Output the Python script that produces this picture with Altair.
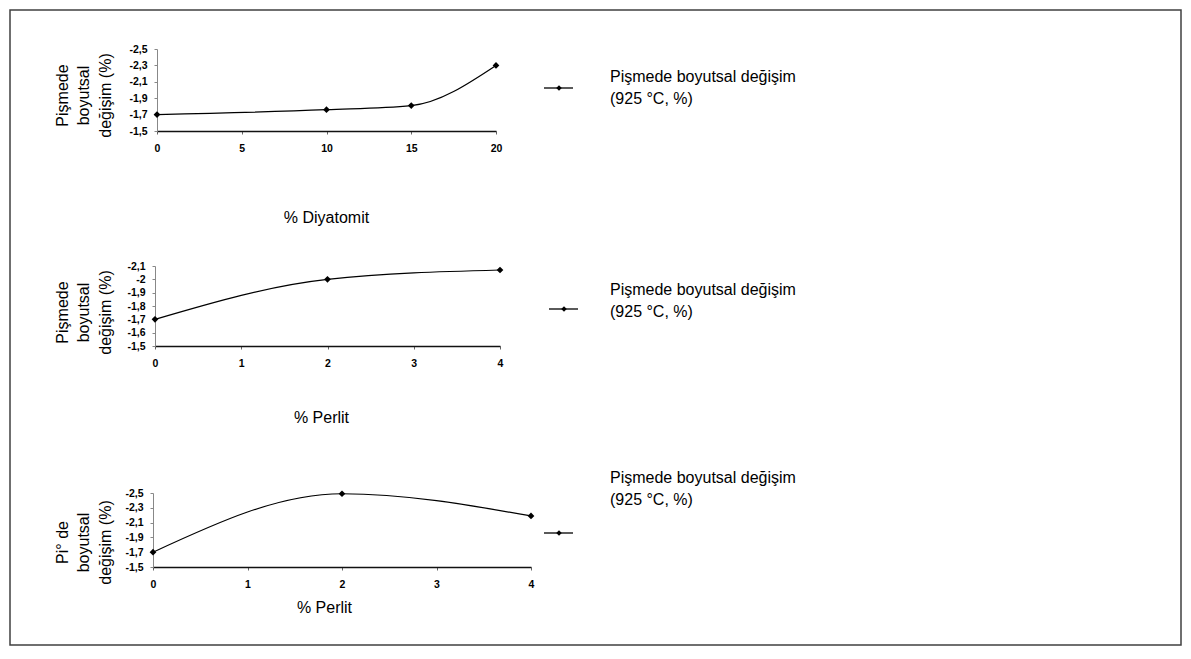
import altair as alt
import pandas as pd

# ---- data ----
# Panel 1: % Diyatomit
diyatomit_pct = [0, 10, 15, 20]
diyatomit_change = [-1.70, -1.76, -1.81, -2.30]
# Panel 2: % Perlit
perlit_pct = [0, 2, 4]
perlit_change = [-1.70, -2.00, -2.07]
# Panel 3: % Perlit
perlit2_pct = [0, 2, 4]
perlit2_change = [-1.70, -2.49, -2.19]

x_ticks_1 = [0, 5, 10, 15, 20]
x_ticks_2 = [0, 1, 2, 3, 4]
x_ticks_3 = [0, 1, 2, 3, 4]
y_ticks_1 = [-2.5, -2.3, -2.1, -1.9, -1.7, -1.5]
y_ticks_2 = [-2.1, -2.0, -1.9, -1.8, -1.7, -1.6, -1.5]
y_ticks_3 = [-2.5, -2.3, -2.1, -1.9, -1.7, -1.5]

series_name = "Pişmede boyutsal değişim\n(925 °C, %)"
y_title_1 = ["Pişmede", "boyutsal", "değişim (%)"]
y_title_2 = ["Pişmede", "boyutsal", "değişim (%)"]
y_title_3 = ["Pi° de", "boyutsal", "değişim (%)"]
x_title_1 = "% Diyatomit"
x_title_2 = "% Perlit"
x_title_3 = "% Perlit"

FONT = "Liberation Sans"
LBL = "replace('' + datum.value, '.', ',')"


def panel(xs, ys, xticks, yticks, w, h, xrange, yrange, yoff,
          ytitle, xtitle, ytx, yty, xtx, xty, leg, frame=False):
    df = pd.DataFrame({"x": xs, "y": ys})
    one = pd.DataFrame({"label": [series_name]})
    xsc = alt.Scale(domain=[xticks[0], xticks[-1]], range=xrange, nice=False, zero=False)
    ysc = alt.Scale(domain=[yticks[0], yticks[-1]], range=yrange, nice=False, zero=False)
    xax = alt.Axis(values=xticks, title=xtitle, grid=False,
                   domainColor="#111111", domainWidth=1.3,
                   tickColor="#666666", tickSize=3,
                   labelFont=FONT, labelFontSize=10.5, labelFontWeight="bold",
                   labelColor="#000000", labelPadding=9,
                   labelFlush=False, labelOverlap=False,
                   titleFont=FONT, titleFontSize=16, titleFontWeight="normal",
                   titleColor="#000000", titleX=xtx, titleY=xty,
                   titleAlign="center", titleBaseline="middle")
    yax = alt.Axis(values=yticks, title=ytitle, grid=False,
                   domainColor="#888888", domainWidth=1,
                   tickColor="#888888", tickSize=3, offset=yoff,
                   labelFont=FONT, labelFontSize=10.5, labelFontWeight="bold",
                   labelColor="#000000", labelPadding=7, labelExpr=LBL,
                   labelOverlap=False,
                   titleFont=FONT, titleFontSize=16, titleFontWeight="normal",
                   titleColor="#000000", titleX=ytx, titleY=yty,
                   titleAlign="center", titleBaseline="middle",
                   titleLineHeight=21.5)
    line = alt.Chart(df).mark_line(
        interpolate="monotone", color="#000000", strokeWidth=1.2,
        point=alt.OverlayMarkDef(shape="diamond", filled=True, size=45,
                                 color="#000000", opacity=1)
    ).encode(
        x=alt.X("x:Q", scale=xsc, axis=xax),
        y=alt.Y("y:Q", scale=ysc, axis=yax),
    )
    lrule = alt.Chart(one).mark_rule(color="#000000", strokeWidth=1.3).encode(
        x=alt.value(leg["x1"]), x2=alt.value(leg["x2"]), y=alt.value(leg["sy"]))
    lpt = alt.Chart(one).mark_point(shape="diamond", filled=True, size=30,
                                    color="#000000", opacity=1).encode(
        x=alt.value(leg["sx"]), y=alt.value(leg["sy"]))
    ltxt = alt.Chart(one).mark_text(
        align="left", baseline="middle", font=FONT, fontSize=16,
        lineHeight=22, lineBreak="\n", color="#000000"
    ).encode(x=alt.value(leg["tx"]), y=alt.value(leg["ty"]), text="label:N")
    layers = [line, lrule, lpt, ltxt]
    if frame:
        box = alt.Chart(one).mark_rect(fillOpacity=0, stroke="#404040", strokeWidth=1.5).encode(
            x=alt.value(-143), x2=alt.value(1028), y=alt.value(-39), y2=alt.value(596))
        layers = [box] + layers
    return alt.layer(*layers).properties(width=w, height=h)


p1 = panel(diyatomit_pct, diyatomit_change, x_ticks_1, y_ticks_1,
           343, 82, [4, 343], [0, 82], -4,
           y_title_1, x_title_1, -95, 46, 173, 86,
           dict(x1=391, x2=420, sx=406, sy=39, tx=457, ty=28), frame=True)
p2 = panel(perlit_pct, perlit_change, x_ticks_2, y_ticks_2,
           347, 80, [2, 347], [0, 80], -2,
           y_title_2, x_title_2, -93, 46, 168, 71,
           dict(x1=396, x2=425, sx=411, sy=43, tx=457, ty=24))
p3 = panel(perlit2_pct, perlit2_change, x_ticks_3, y_ticks_3,
           378, 86, [0, 378], [12, 86], 0,
           y_title_3, x_title_3, -91, 61, 171, 40,
           dict(x1=391, x2=420, sx=406, sy=52, tx=457, ty=-3))

chart = alt.vconcat(p1, p2, p3, spacing=135, bounds="flush").properties(
    padding=0
).configure(font=FONT, background="white").configure_view(stroke="transparent")

chart.save("out.html", embed_options={"renderer": "svg", "actions": False})
